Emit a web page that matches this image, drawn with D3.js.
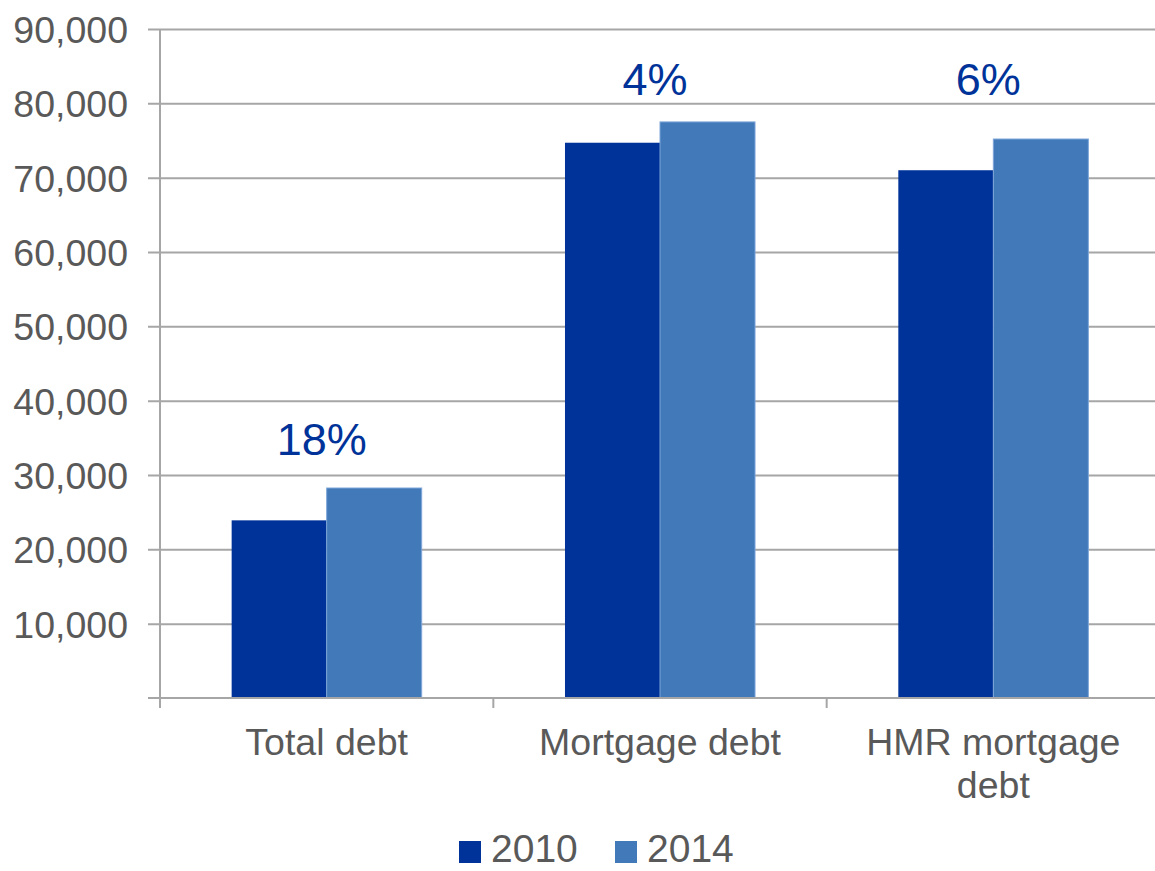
<!DOCTYPE html>
<html>
<head>
<meta charset="utf-8">
<script src="https://cdn.jsdelivr.net/npm/d3@7"></script>
<style>
  html, body { margin: 0; padding: 0; background: #fff; }
  svg { display: block; font-family: "Liberation Sans", Arial, sans-serif; }
</style>
</head>
<body>
<svg id="chart" width="1155" height="871"></svg>
<script>
// Household debt by type, 2010 vs 2014
const categories = ["Total debt", "Mortgage debt", "HMR mortgage debt"];
const categoryLines = [["Total debt"], ["Mortgage debt"], ["HMR mortgage", "debt"]];
const years = ["2010", "2014"];
const values2010 = [23900, 74700, 71000];
const values2014 = [28250, 77500, 75200];
const changeLabels = ["18%", "4%", "6%"];
const yTicks = [10000, 20000, 30000, 40000, 50000, 60000, 70000, 80000, 90000];

const colors = { "2010": "#003399", "2014": "#4179b9" };
const gridColor = "#a6a6a6";
const textColor = "#595959";

const svg = d3.select("#chart");
const plotLeft = 160, plotRight = 1160, plotTop = 29, plotBottom = 698;

const x0 = d3.scaleBand().domain(categories).range([plotLeft, plotRight]).paddingInner(0).paddingOuter(0);
const x1 = d3.scaleBand().domain(years).range([0, x0.bandwidth()]).paddingInner(0).paddingOuter(0.754);
const y = d3.scaleLinear().domain([0, 90000]).range([plotBottom, plotTop]);

// horizontal gridlines with small outside ticks
const yAxis = d3.axisLeft(y).tickValues(yTicks)
  .tickSize(-(plotRight - plotLeft)).tickSizeOuter(0)
  .tickFormat(d3.format(",")).tickPadding(20);
const gy = svg.append("g").attr("transform", `translate(${plotLeft},0)`).call(yAxis);
gy.select(".domain").remove();
gy.selectAll(".tick line").attr("x1", -12).attr("stroke", gridColor).attr("stroke-width", 2);
gy.selectAll(".tick text").attr("fill", textColor).attr("font-size", 37.5)
  .attr("font-family", "Liberation Sans, Arial, sans-serif").attr("x", -32).attr("dy", "0.36em");

// vertical axis line
svg.append("line").attr("x1", plotLeft).attr("x2", plotLeft).attr("y1", plotTop).attr("y2", plotBottom)
  .attr("stroke", gridColor).attr("stroke-width", 2);

const series = categories.map((c, i) => ({
  category: c,
  bars: [{ year: "2010", value: values2010[i] }, { year: "2014", value: values2014[i] }]
}));

const groups = svg.append("g").selectAll("g").data(series).join("g")
  .attr("transform", d => `translate(${x0(d.category)},0)`);

groups.selectAll("rect").data(d => d.bars).join("rect")
  .attr("x", d => x1(d.year))
  .attr("width", x1.bandwidth())
  .attr("y", d => y(d.value))
  .attr("height", d => y(0) - y(d.value))
  .attr("fill", d => colors[d.year])
  .attr("stroke", d => d.year === "2014" ? "#7ea6d8" : "none")
  .attr("stroke-width", 1);

// x axis (baseline) with category ticks
const xAxisG = svg.append("g");
xAxisG.append("line").attr("x1", plotLeft - 12).attr("x2", plotRight).attr("y1", plotBottom).attr("y2", plotBottom)
  .attr("stroke", gridColor).attr("stroke-width", 2);
xAxisG.selectAll("line.cat").data(categories).join("line").attr("class", "cat")
  .attr("x1", d => x0(d)).attr("x2", d => x0(d))
  .attr("y1", plotBottom).attr("y2", plotBottom + 10)
  .attr("stroke", gridColor).attr("stroke-width", 2);

// category labels
const catText = svg.append("g").selectAll("text").data(categories).join("text")
  .attr("x", d => x0(d) + x0.bandwidth() / 2)
  .attr("y", plotBottom + 57)
  .attr("text-anchor", "middle")
  .attr("fill", textColor)
  .attr("font-size", 37.5);
catText.each(function(d, i) {
  const t = d3.select(this);
  categoryLines[i].forEach((line, j) => {
    t.append("tspan").attr("x", x0(d) + x0.bandwidth() / 2).attr("dy", j === 0 ? 0 : 43).text(line);
  });
});

// percent change labels above each group
svg.append("g").selectAll("text").data(series).join("text")
  .attr("x", d => x0(d.category) + x0.bandwidth() / 2 - 5)
  .attr("y", (d, i) => values2014[i] > 70000 ? y(80000) - 8 : y(values2014[i]) - 33)
  .attr("text-anchor", "middle")
  .attr("fill", "#003399")
  .attr("font-size", 45)
  .text((d, i) => changeLabels[i]);

// legend
const legend = svg.append("g");
const legendX = [459, 615];
years.forEach((yr, i) => {
  legend.append("rect").attr("x", legendX[i]).attr("y", 841).attr("width", 22).attr("height", 22)
    .attr("fill", colors[yr]);
  legend.append("text").attr("x", legendX[i] + 32).attr("y", 862)
    .attr("fill", textColor).attr("font-size", 39).text(yr);
});
</script>
</body>
</html>
